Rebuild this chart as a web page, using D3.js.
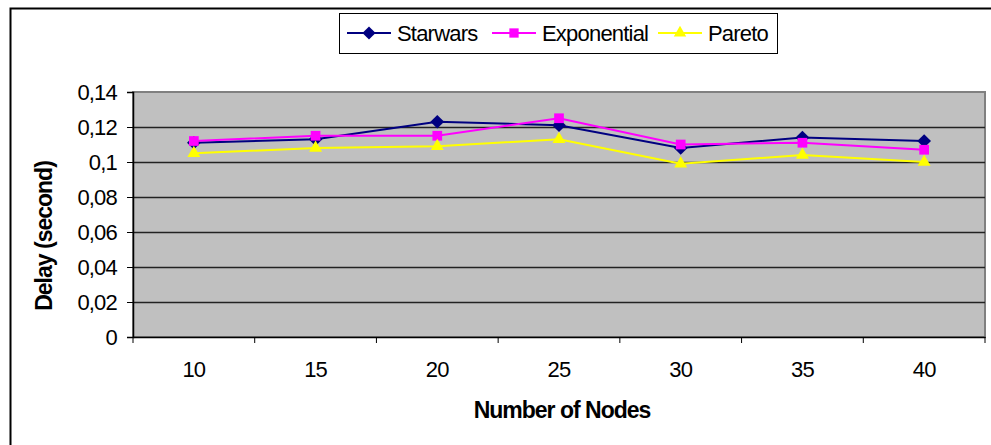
<!DOCTYPE html>
<html>
<head>
<meta charset="utf-8">
<script src="https://cdn.jsdelivr.net/npm/d3@7"></script>
<style>
  body { margin: 0; background: #fff; }
  text { font-family: "Liberation Sans", Arial, sans-serif; }
</style>
</head>
<body>
<div id="container"></div>
<script>
const widthSVG = 991,
    heightSVG = 445,
    plot = { left: 133, right: 985, top: 92, bottom: 337 };

// chart data
const nodes = ["10", "15", "20", "25", "30", "35", "40"];
const starwars = [0.111, 0.113, 0.123, 0.121, 0.108, 0.114, 0.112];
const exponential = [0.112, 0.115, 0.115, 0.125, 0.110, 0.111, 0.107];
const pareto = [0.105, 0.108, 0.109, 0.113, 0.099, 0.104, 0.100];
const yTicks = [0, 0.02, 0.04, 0.06, 0.08, 0.1, 0.12, 0.14];
const seriesNames = ["Starwars", "Exponential", "Pareto"];

const series = [
    { name: seriesNames[0], values: starwars, color: "#000080", shape: d3.symbolDiamond2 },
    { name: seriesNames[1], values: exponential, color: "#ff00ff", shape: d3.symbolSquare2 },
    { name: seriesNames[2], values: pareto, color: "#ffff00", shape: d3.symbolTriangle2 }
];

const xScale = d3.scaleBand()
    .domain(nodes)
    .range([plot.left, plot.right]);

const yScale = d3.scaleLinear()
    .domain([0, 0.14])
    .range([plot.bottom, plot.top]);

const fmt = v => (v === 0 ? "0" : d3.format("")(+v.toFixed(2))).replace(".", ",");

const svg = d3.select("#container")
    .append("svg")
    .attr("width", widthSVG)
    .attr("height", heightSVG);

// outer chart frame (runs off the picture at right/bottom)
svg.append("rect")
    .attr("x", 10.5).attr("y", 8.5)
    .attr("width", 1000).attr("height", 500)
    .attr("fill", "#fff")
    .attr("stroke", "#000")
    .attr("stroke-width", 2);

// plot area
svg.append("rect")
    .attr("x", plot.left).attr("y", plot.top)
    .attr("width", plot.right - plot.left)
    .attr("height", plot.bottom - plot.top)
    .attr("fill", "#c0c0c0")
    .attr("stroke", "#808080")
    .attr("stroke-width", 2);

// gridlines
svg.append("g")
    .selectAll("line")
    .data(yTicks.filter(t => t > 0 && t < 0.14))
    .enter()
    .append("line")
    .attr("x1", plot.left).attr("x2", plot.right)
    .attr("y1", d => Math.round(yScale(d)) + 0.5)
    .attr("y2", d => Math.round(yScale(d)) + 0.5)
    .attr("stroke", "#222")
    .attr("stroke-width", 1.5);

// y axis
const yAxis = svg.append("g")
    .attr("transform", `translate(${plot.left},0)`)
    .call(d3.axisLeft(yScale).tickValues(yTicks).tickFormat(fmt).tickSize(6).tickPadding(10));
yAxis.selectAll("text")
    .attr("font-size", 22)
    .attr("letter-spacing", -0.8)
    .attr("fill", "#000");

// x axis
const xAxis = svg.append("g")
    .attr("transform", `translate(0,${plot.bottom})`)
    .call(d3.axisBottom(xScale).tickSize(0).tickPadding(24));
xAxis.selectAll("text")
    .attr("font-size", 22)
    .attr("letter-spacing", -0.8)
    .attr("fill", "#000");
// x tick marks sit between categories
xAxis.selectAll(".sep")
    .data(nodes.concat(["end"]))
    .enter()
    .append("line")
    .attr("class", "sep")
    .attr("x1", (d, i) => i < nodes.length ? xScale(d) : plot.right)
    .attr("x2", (d, i) => i < nodes.length ? xScale(d) : plot.right)
    .attr("y1", 0).attr("y2", 6)
    .attr("stroke", "#000");
svg.selectAll(".domain").attr("stroke", "#000").attr("stroke-width", 1.5);

// lines + markers
const line = d3.line()
    .x((d, i) => xScale(nodes[i]) + xScale.bandwidth() / 2)
    .y(d => yScale(d));

series.forEach(s => {
    svg.append("path")
        .datum(s.values)
        .attr("d", line)
        .attr("fill", "none")
        .attr("stroke", s.color)
        .attr("stroke-width", 2);
    svg.append("g")
        .selectAll("path")
        .data(s.values)
        .enter()
        .append("path")
        .attr("transform", (d, i) => `translate(${xScale(nodes[i]) + xScale.bandwidth() / 2},${yScale(d)})`)
        .attr("d", d3.symbol().type(s.shape).size(120))
        .attr("fill", s.color);
});

// axis titles
svg.append("text")
    .attr("x", 562).attr("y", 418)
    .attr("text-anchor", "middle")
    .attr("font-size", 23)
    .attr("font-weight", "bold")
    .attr("letter-spacing", -1)
    .text("Number of Nodes");

svg.append("text")
    .attr("transform", "translate(52,236) rotate(-90)")
    .attr("text-anchor", "middle")
    .attr("font-size", 23)
    .attr("font-weight", "bold")
    .attr("letter-spacing", -1)
    .text("Delay (second)");

// legend
const legend = svg.append("g").attr("id", "legend");
legend.append("rect")
    .attr("x", 339.5).attr("y", 13.5)
    .attr("width", 438).attr("height", 40)
    .attr("fill", "#fff")
    .attr("stroke", "#000");

const legendX = [347, 492, 658];
series.forEach((s, i) => {
    const g = legend.append("g").attr("transform", `translate(${legendX[i]},33)`);
    g.append("line")
        .attr("x1", 0).attr("x2", 44)
        .attr("stroke", s.color)
        .attr("stroke-width", 2);
    g.append("path")
        .attr("transform", "translate(22,0)")
        .attr("d", d3.symbol().type(s.shape).size(110))
        .attr("fill", s.color);
    g.append("text")
        .attr("x", 50).attr("y", 8)
        .attr("font-size", 22)
        .attr("letter-spacing", -0.8)
        .text(s.name);
});
</script>
</body>
</html>
